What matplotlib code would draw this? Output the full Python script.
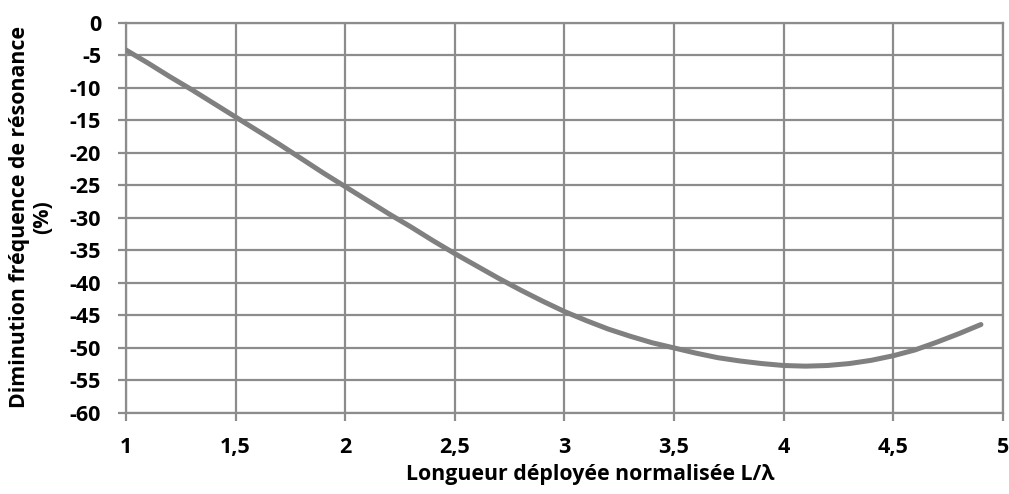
import numpy as np
import matplotlib
matplotlib.use('Agg')
import matplotlib.pyplot as plt

plt.rcParams['font.family'] = ['Open Sans', 'DejaVu Sans']
plt.rcParams['font.weight'] = 'bold'

# Longueur normalisée L/lambda et diminution de la fréquence (%)
longueur = [1.0, 1.1, 1.2, 1.3, 1.4, 1.5, 1.6, 1.7, 1.8, 1.9,
            2.0, 2.1, 2.2, 2.3, 2.4, 2.5, 2.6, 2.7, 2.8, 2.9,
            3.0, 3.1, 3.2, 3.3, 3.4, 3.5, 3.6, 3.7, 3.8, 3.9,
            4.0, 4.1, 4.2, 4.3, 4.4, 4.5, 4.6, 4.7, 4.8, 4.9]
diminution = [-4.2, -6.2, -8.3, -10.3, -12.4, -14.5, -16.6, -18.7, -20.9, -23.1,
              -25.2, -27.3, -29.4, -31.4, -33.5, -35.5, -37.4, -39.3, -41.1, -42.8,
              -44.4, -45.8, -47.1, -48.2, -49.2, -50.0, -50.8, -51.5, -52.0, -52.4,
              -52.7, -52.8, -52.7, -52.4, -51.9, -51.2, -50.3, -49.1, -47.8, -46.4]

x_ticks = [1, 1.5, 2, 2.5, 3, 3.5, 4, 4.5, 5]
x_ticklabels = ['1', '1,5', '2', '2,5', '3', '3,5', '4', '4,5', '5']
y_ticks = list(range(-60, 1, 5))

fig = plt.figure(figsize=(10.09, 4.94), dpi=100)
ax = fig.add_axes([0.1249, 0.164, 0.869, 0.790])

ax.plot(longueur, diminution, color='#808080', linewidth=3.6,
        solid_capstyle='round', zorder=3)

ax.set_xlim(1, 5)
ax.set_ylim(-60, 0)
ax.set_xticks(x_ticks)
ax.set_xticklabels(x_ticklabels)
ax.set_yticks(y_ticks)
ax.set_yticklabels([str(v) for v in y_ticks])

ax.grid(True, color='#8c8c8c', linewidth=1.6)
for s in ax.spines.values():
    s.set_color('#8c8c8c')
    s.set_linewidth(1.6)
ax.tick_params(axis='both', colors='#8c8c8c', width=1.6, length=6,
               labelcolor='black', labelsize=15.5)
ax.tick_params(axis='x', pad=11)
ax.tick_params(axis='y', pad=12)

ax.set_xlabel('Longueur déployée normalisée L/λ', fontsize=15.4, fontweight='bold', va='center')
ax.xaxis.set_label_coords(0.530, -0.158)
ax.set_ylabel('Diminution fréquence de résonance\n(%)', fontsize=15.4, fontweight='bold',
              linespacing=1.15, va='center')
ax.yaxis.set_label_coords(-0.108, 0.503)

fig.savefig('out.png', dpi=100)
